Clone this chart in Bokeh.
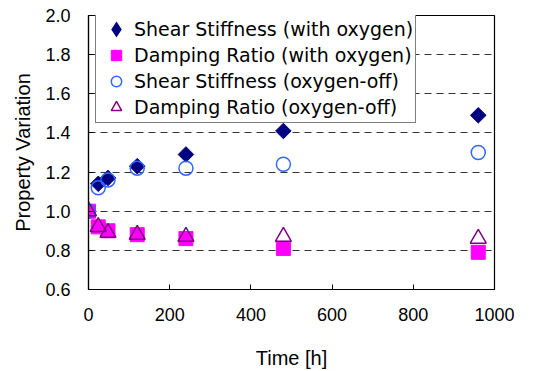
import math

from bokeh.plotting import figure
from bokeh.models import Legend, LegendItem, FixedTicker, CustomJSTickFormatter
from bokeh.embed import file_html
from bokeh.resources import INLINE

# Elapsed time [h]
time_h = [0, 24, 48, 120, 240, 480, 960]

# Normalised property values
shear_with_o2 = [1.00, 1.14, 1.17, 1.23, 1.29, 1.41, 1.49]
damping_with_o2 = [1.00, 0.92, 0.90, 0.88, 0.86, 0.81, 0.79]
shear_o2_off = [1.00, 1.12, 1.16, 1.22, 1.22, 1.24, 1.30]
damping_o2_off = [1.00, 0.92, 0.89, 0.88, 0.87, 0.87, 0.86]

series_labels = [
    "Shear Stiffness (with oxygen)",
    "Damping Ratio (with oxygen)",
    "Shear Stiffness (oxygen-off)",
    "Damping Ratio (oxygen-off)",
]

x_ticks = [0, 200, 400, 600, 800, 1000]
y_ticks = [0.6, 0.8, 1.0, 1.2, 1.4, 1.6, 1.8, 2.0]

TICK_FONT = "Liberation Sans"
LEGEND_FONT = "DejaVu Sans"

p = figure(
    width=559, height=371,
    x_range=(0, 1000), y_range=(0.6, 2.0),
    output_backend="svg", toolbar_location=None,
    min_border_left=88, min_border_right=65,
    min_border_top=15, min_border_bottom=81,
    background_fill_color="white", border_fill_color="white",
)
p.outline_line_color = "black"
p.outline_line_width = 1.2

p.xgrid.visible = False
p.ygrid.ticker = FixedTicker(ticks=y_ticks)
p.ygrid.grid_line_color = "#333333"
p.ygrid.grid_line_dash = "7 5"
p.ygrid.grid_line_width = 1

for ax in (p.xaxis[0], p.yaxis[0]):
    ax.axis_line_color = "black"
    ax.axis_line_width = 1.2
    ax.major_tick_in = 5
    ax.major_tick_out = 0
    ax.minor_tick_line_color = None
    ax.major_tick_line_color = "black"
    ax.major_label_text_font = TICK_FONT
    ax.major_label_text_font_size = "18px"
    ax.major_label_text_color = "black"
    ax.axis_label_text_font = TICK_FONT
    ax.axis_label_text_font_size = "20px"
    ax.axis_label_text_font_style = "normal"
    ax.axis_label_text_color = "black"

p.xaxis.ticker = FixedTicker(ticks=x_ticks)
p.yaxis.ticker = FixedTicker(ticks=y_ticks)
p.yaxis.formatter = CustomJSTickFormatter(code="return tick.toFixed(1);")
p.xaxis.major_label_standoff = 18
p.yaxis.major_label_standoff = 18
p.xaxis.axis_label = "Time [h]"
p.yaxis.axis_label = "Property Variation"
p.xaxis.axis_label_standoff = 23
p.yaxis.axis_label_standoff = 8

NAVY, MAGENTA, BLUE, PURPLE = "#000080", "#ff00ff", "#3366ff", "#800080"

# Legend keys draw markers unrotated, so the diamond key comes from a small
# diamond-shaped twin of the series that sits hidden under the real markers
r1_key = p.scatter(time_h, shear_with_o2, marker="diamond", size=5,
                   fill_color=NAVY, line_color=NAVY, line_width=3,
                   line_join="miter")

# Diamonds are drawn as squares turned by 45 degrees
r1 = p.scatter(time_h, shear_with_o2, marker="square", size=11, angle=math.pi / 4,
               fill_color=NAVY, line_color=NAVY)
r2 = p.scatter(time_h, damping_with_o2, marker="square", size=14,
               fill_color=MAGENTA, line_color=MAGENTA)
r3 = p.scatter(time_h, shear_o2_off, marker="circle", size=14,
               fill_color=None, line_color=BLUE, line_width=1.5)
r4 = p.scatter(time_h, damping_o2_off, marker="triangle", size=16,
               fill_color=None, line_color=PURPLE, line_width=1.5)

legend = Legend(
    items=[LegendItem(label=lab, renderers=[r]) for lab, r in
           zip(series_labels, [r1_key, r2, r3, r4])],
    location=(7, 166),
    background_fill_color="white", background_fill_alpha=1.0,
    border_line_color="black", border_line_width=1,
    label_text_font=LEGEND_FONT, label_text_font_size="19px",
    label_text_color="black",
    padding=2, spacing=0, label_height=26, glyph_height=26, glyph_width=36,
    label_standoff=0, margin=0,
)
p.add_layout(legend, "center")

open("out.html", "w").write(file_html(p, INLINE))
